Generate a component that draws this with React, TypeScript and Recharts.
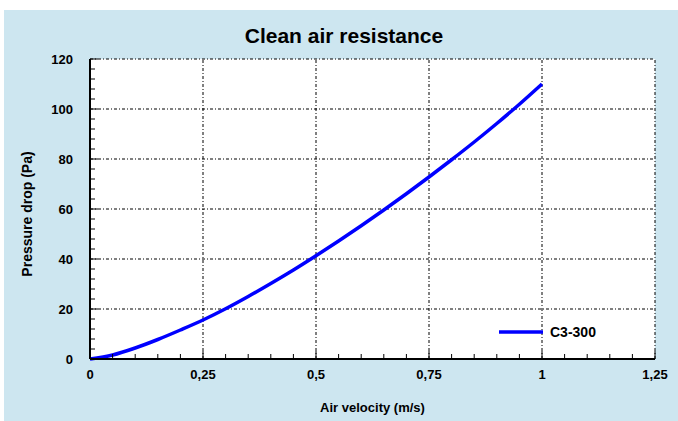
import React from "react";
import { LineChart, Line, XAxis, YAxis, CartesianGrid, ReferenceLine, Legend } from "recharts";

// air velocity (m/s) and pressure drop (Pa)
const velocity = [0, 0.05, 0.1, 0.15, 0.2, 0.25, 0.3, 0.35, 0.4, 0.45, 0.5, 0.55, 0.6, 0.65, 0.7, 0.75, 0.8, 0.85, 0.9, 0.95, 1];
const pressureDrop = [0, 1.6, 4.4, 7.8, 11.6, 15.6, 20.1, 25, 30.2, 35.6, 41.3, 47.2, 53.3, 59.6, 66.1, 72.8, 79.7, 86.8, 94.2, 101.9, 110];

const xMajor = [0, 0.25, 0.5, 0.75, 1, 1.25];
const xMinor = [0, 0.05, 0.1, 0.15, 0.2, 0.25, 0.3, 0.35, 0.4, 0.45, 0.5, 0.55, 0.6, 0.65, 0.7, 0.75, 0.8, 0.85, 0.9, 0.95, 1, 1.05, 1.1, 1.15, 1.2, 1.25];
const yMajor = [0, 20, 40, 60, 80, 100, 120];
const yMinor = [0, 4, 8, 12, 16, 20, 24, 28, 32, 36, 40, 44, 48, 52, 56, 60, 64, 68, 72, 76, 80, 84, 88, 92, 96, 100, 104, 108, 112, 116, 120];

const seriesName = "C3-300";
const data = velocity.map((v, i) => ({ v, dp: pressureDrop[i] }));

const FONT = '"Liberation Sans", Arial, sans-serif';
const isMajor = (list: number[], v: number) => list.some((m) => Math.abs(m - v) < 1e-9);

const XTick = (props: any) => {
	const { x, y, payload } = props;
	const major = isMajor(xMajor, payload.value);
	return (
		<g>
			<line x1={x} y1={y} x2={x} y2={y - (major ? 8 : 5)} stroke="#000" strokeWidth={1} />
			{major && (
				<text x={x} y={y + 20} textAnchor="middle" fontFamily={FONT} fontWeight="bold" fontSize={13} fill="#000">
					{String(payload.value).replace(".", ",")}
				</text>
			)}
		</g>
	);
};

const YTick = (props: any) => {
	const { x, y, payload } = props;
	const major = isMajor(yMajor, payload.value);
	return (
		<g>
			<line x1={x} y1={y} x2={x + (major ? 8 : 5)} y2={y} stroke="#000" strokeWidth={1} />
			{major && (
				<text x={x - 17} y={y + 5} textAnchor="end" fontFamily={FONT} fontWeight="bold" fontSize={13} fill="#000">
					{payload.value}
				</text>
			)}
		</g>
	);
};

const LegendBox = () => (
	<div style={{ display: "flex", alignItems: "center", fontFamily: FONT, fontWeight: "bold", fontSize: 14, color: "#000" }}>
		<svg width={44} height={6} style={{ marginRight: 7 }}>
			<line x1={0} y1={3} x2={44} y2={3} stroke="#0000ff" strokeWidth={3.5} />
		</svg>
		<span>{seriesName}</span>
	</div>
);

export default function App() {
	return (
		<div style={{ position: "absolute", left: 4, top: 10, width: 674, height: 411, background: "#cde6f0" }}>
			<div style={{ position: "absolute", left: 0, top: 14, width: 680, textAlign: "center", fontFamily: FONT, fontWeight: "bold", fontSize: 21, color: "#000", zIndex: 2 }}>
				Clean air resistance
			</div>
			<LineChart width={674} height={411} data={data} margin={{ top: 49, right: 23, left: 0, bottom: 0 }}>
				<CartesianGrid fill="#fff" horizontal={false} vertical={false} />
				{yMajor.filter((v) => v > 0).map((v) => (
					<ReferenceLine key={"y" + v} y={v} stroke="#000" strokeWidth={1} strokeDasharray="3 2 1 2" />
				))}
				{xMajor.filter((v) => v > 0).map((v) => (
					<ReferenceLine key={"x" + v} x={v} stroke="#000" strokeWidth={1} strokeDasharray="3 2 1 2" />
				))}
				<XAxis
					dataKey="v"
					type="number"
					domain={[0, 1.25]}
					ticks={xMinor}
					interval={0}
					height={62}
					tickSize={0}
					tickMargin={0}
					tickLine={false}
					tick={<XTick />}
					axisLine={{ stroke: "#000", strokeWidth: 2 }}
					label={{
						content: (p: any) => {
							const vb = p.viewBox;
							return (
								<text x={vb.x + vb.width / 2} y={vb.y + 53} textAnchor="middle" fontFamily={FONT} fontWeight="bold" fontSize={13} fill="#000">
									Air velocity (m/s)
								</text>
							);
						},
					}}
				/>
				<YAxis
					type="number"
					domain={[0, 120]}
					ticks={yMinor}
					interval={0}
					width={86}
					tickSize={0}
					tickMargin={0}
					tickLine={false}
					tick={<YTick />}
					axisLine={{ stroke: "#000", strokeWidth: 2 }}
					label={{
						content: (p: any) => {
							const vb = p.viewBox;
							const cx = vb.x + 28;
							const cy = vb.y + vb.height / 2 + 5;
							return (
								<text x={cx} y={cy} transform={`rotate(-90, ${cx}, ${cy})`} textAnchor="middle" fontFamily={FONT} fontWeight="bold" fontSize={14} fill="#000">
									Pressure drop (Pa)
								</text>
							);
						},
					}}
				/>
				<Legend layout="vertical" verticalAlign="middle" align="center" content={<LegendBox />} wrapperStyle={{ left: 495, top: 314, width: "auto" }} />
				<Line type="monotone" dataKey="dp" name={seriesName} stroke="#0000ff" strokeWidth={3.5} dot={false} isAnimationActive={false} />
			</LineChart>
		</div>
	);
}
